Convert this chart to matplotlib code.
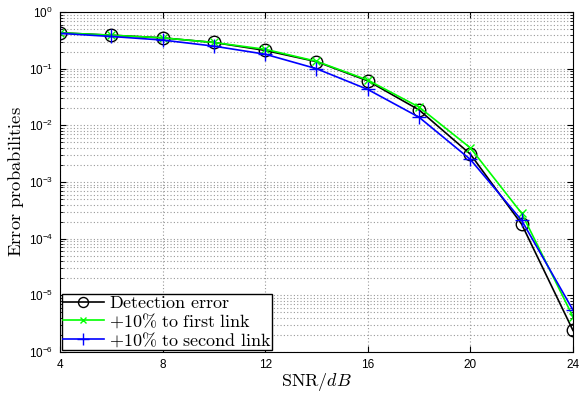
import matplotlib
matplotlib.use("Agg")
import matplotlib.pyplot as plt
from matplotlib.font_manager import FontProperties
from matplotlib.ticker import LogLocator, NullFormatter

plt.rcParams["mathtext.fontset"] = "custom"
plt.rcParams["mathtext.rm"] = "Liberation Sans"
plt.rcParams["mathtext.it"] = "Liberation Sans:italic"
plt.rcParams["font.family"] = "Liberation Sans"

snr = [4, 6, 8, 10, 12, 14, 16, 18, 20, 22, 24]
detection = [0.43, 0.39, 0.35, 0.29, 0.21, 0.133, 0.061, 0.0187, 0.0031, 1.8e-4, 2.4e-6]
first_link = [0.43, 0.39, 0.35, 0.29, 0.22, 0.135, 0.063, 0.021, 0.0040, 2.8e-4, 4.2e-6]
second_link = [0.42, 0.37, 0.32, 0.25, 0.18, 0.10, 0.043, 0.0139, 0.0025, 2.1e-4, 5.5e-6]

fig = plt.figure(figsize=(5.79, 3.94), dpi=100)
ax = fig.add_axes([0.1036, 0.1066, 0.886, 0.8629])

ax.semilogy(snr, detection, "k-o", mfc="none", ms=9, lw=1.2, mew=1.0,
            label=r"$\mathrm{Detection\ error}$")
ax.semilogy(snr, first_link, "-x", color="#00ff00", ms=6, lw=1.2, mew=1.0,
            label=r"$+10\%\ \mathrm{to\ first\ link}$")
ax.semilogy(snr, second_link, "-+", color="#0000ff", ms=10, lw=1.2, mew=1.0,
            label=r"$+10\%\ \mathrm{to\ second\ link}$")

ax.set_xlim(4, 24)
ax.set_ylim(1e-6, 1)
ax.set_xticks([4, 8, 12, 16, 20, 24])
ax.yaxis.set_major_locator(LogLocator(base=10, numticks=10))
ax.yaxis.set_minor_locator(LogLocator(base=10, subs=range(2, 10), numticks=20))
ax.yaxis.set_minor_formatter(NullFormatter())
ax.tick_params(which="both", direction="in", top=True, right=True, labelsize=8.5)
ax.tick_params(which="major", length=4)
ax.tick_params(which="minor", length=2)
ax.tick_params(axis="y", which="major", pad=5)
ax.tick_params(axis="x", which="major", pad=5)
ax.grid(True, which="major", ls=(0, (1, 2)), color="#999999", lw=0.8)
ax.grid(True, which="minor", axis="y", ls=(0, (1, 2)), color="#999999", lw=0.8)

ax.set_xlabel(r"$\mathrm{SNR}/dB$", fontsize=13, math_fontfamily="cm", labelpad=0)
ax.set_ylabel(r"$\mathrm{Error\ probabilities}$", fontsize=13.4, math_fontfamily="cm", labelpad=2)

leg = ax.legend(loc="lower left", prop=FontProperties(size=13, math_fontfamily="cm"),
                fancybox=False, framealpha=1, edgecolor="black", borderpad=0.05,
                labelspacing=0.0, handlelength=2.3, handletextpad=0.25,
                borderaxespad=0.1, markerscale=0.8)
leg.get_frame().set_linewidth(1.0)

fig.savefig("out.png", dpi=100)
